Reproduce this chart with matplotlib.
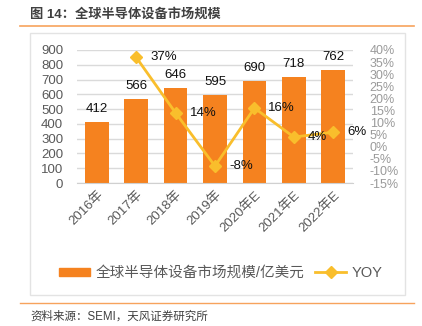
import matplotlib.pyplot as plt
import matplotlib as mpl
from matplotlib.lines import Line2D
from matplotlib.patches import Patch, Rectangle

mpl.rcParams['font.family'] = ['Liberation Sans', 'Noto Sans CJK SC', 'DejaVu Sans']

years = ['2016年', '2017年', '2018年', '2019年', '2020年E', '2021年E', '2022年E']
market = [412, 566, 646, 595, 690, 718, 762]
yoy = [None, 37, 14, -8, 16, 4, 6]

bar_color = '#F5821F'
line_color = '#F9BE2C'
grey = '#595959'

W, H = 422, 326
fig = plt.figure(figsize=(W / 100, H / 100), dpi=100)

def fx(px):
    return px / W

def fy(py):
    return 1 - py / H

# title + separator lines
fig.text(fx(30), fy(14), '图 14：全球半导体设备市场规模', fontsize=9.5, color='#404040',
         fontweight='bold', va='center', ha='left')
fig.add_artist(Line2D([fx(20), fx(414)], [fy(26), fy(26)], color='#F7A35C', lw=1.2))
fig.add_artist(Rectangle((fx(30), fy(295)), fx(375), fy(33) - fy(295), fill=False,
                         edgecolor='#E3E3E3', lw=1))
fig.add_artist(Line2D([fx(20), fx(414)], [fy(303), fy(303)], color='#F7A35C', lw=1.0))
fig.text(fx(30), fy(317), '资料来源：SEMI，天风证券研究所', fontsize=8.3, color='#404040',
         va='center', ha='left')

ax = fig.add_axes([fx(77), fy(183), fx(276), (183 - 50) / H])
x = list(range(len(years)))
ax.bar(x, market, width=0.6, color=bar_color, zorder=2)
for xi, v in zip(x, market):
    ax.annotate(str(v), (xi, v), xytext=(0, 5), textcoords='offset points',
                ha='center', va='bottom', fontsize=9.5, color='#111111')
ax.set_ylim(0, 900)
ax.set_yticks(range(0, 901, 100))
ax.set_xlim(-0.5, 6.5)
ax.grid(axis='y', color='#DADADA', lw=1, zorder=0)
for s in ['top', 'right', 'left']:
    ax.spines[s].set_visible(False)
ax.spines['bottom'].set_color('#D0D0D0')
ax.tick_params(axis='y', length=0, pad=10, labelsize=9.5, labelcolor=grey)
ax.tick_params(axis='x', length=0, pad=4)
ax.set_xticks(x)
ax.set_xticklabels(years, rotation=45, ha='right', rotation_mode='anchor',
                   fontsize=9.5, color=grey)

ax2 = ax.twinx()
xs = x[1:]
ys = yoy[1:]
ax2.plot(xs, ys, color=line_color, lw=2, marker='D', markersize=6, zorder=3)
for xi, v in zip(xs, ys):
    ax2.annotate(f'{v}%', (xi, v), xytext=(10, 0), textcoords='offset points',
                 ha='left', va='center', fontsize=9.5, color='#111111')
ax2.set_ylim(-15, 40)
ax2.set_yticks(range(-15, 41, 5))
ax2.set_yticklabels([f'{t}%' for t in range(-15, 41, 5)])
ax2.tick_params(axis='y', length=0, pad=12, labelsize=9, labelcolor='#9A9A9A')
for s in ax2.spines.values():
    s.set_visible(False)

handles = [Patch(color=bar_color),
           Line2D([], [], color=line_color, lw=2, marker='D', markersize=6)]
fig.legend(handles, ['全球半导体设备市场规模/亿美元', 'YOY'], loc='center',
           bbox_to_anchor=(fx(221), fy(273)), ncol=2, frameon=False, fontsize=10.5,
           labelcolor=grey, handlelength=2.1, handleheight=0.5, columnspacing=0.75,
           handletextpad=0.4)

fig.savefig('out.png', dpi=100)
